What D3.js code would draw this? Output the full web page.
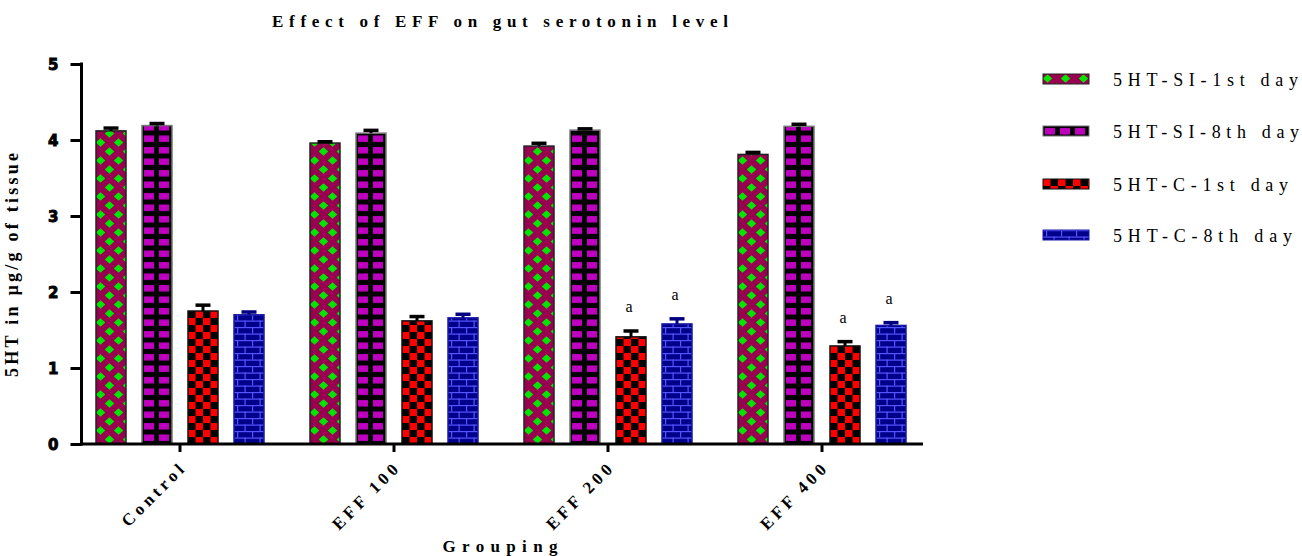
<!DOCTYPE html>
<html><head><meta charset="utf-8">
<script src="https://cdnjs.cloudflare.com/ajax/libs/d3/7.8.5/d3.min.js"></script>
<style>html,body{margin:0;padding:0;background:#fff;}svg{display:block;}</style>
</head><body><div id="chart"></div>
<script>
const groups = ["Control", "EFF 100", "EFF 200", "EFF 400"];
const seriesNames = ["5HT-SI-1st day", "5HT-SI-8th day", "5HT-C-1st day", "5HT-C-8th day"];
const si1 = [4.12, 3.96, 3.92, 3.81];
const si8 = [4.19, 4.09, 4.13, 4.18];
const c1 = [1.75, 1.62, 1.41, 1.29];
const c8 = [1.70, 1.66, 1.58, 1.56];
const si1Err = [0.05, 0.03, 0.05, 0.04];
const si8Err = [0.04, 0.05, 0.03, 0.04];
const c1Err = [0.09, 0.07, 0.09, 0.07];
const c8Err = [0.05, 0.06, 0.08, 0.05];
const sigLabels = [["", "", "", ""], ["", "", "", ""], ["", "", "a", "a"], ["", "", "a", "a"]];
const yTicks = [0, 1, 2, 3, 4, 5];

const values = [si1, si8, c1, c8];
const errs = [si1Err, si8Err, c1Err, c8Err];
const W = 1302, H = 556;
const svg = d3.select("#chart").append("svg").attr("width", W).attr("height", H);
const defs = svg.append("defs");

// Patterns
const p1 = defs.append("pattern").attr("id", "pat0").attr("patternUnits", "userSpaceOnUse")
  .attr("width", 18).attr("height", 18);
p1.append("rect").attr("width", 18).attr("height", 18).attr("fill", "#990050");
[[4.5, 4.5], [22.5, 4.5], [-4.5, 4.5], [13.5, 13.5], [13.5, -4.5], [13.5, 22.5], [-4.5, 13.5]].forEach(([cx, cy]) => {
  p1.append("polygon").attr("points", `${cx - 4.8},${cy} ${cx},${cy - 4.2} ${cx + 4.8},${cy} ${cx},${cy + 4.2}`).attr("fill", "#00e600");
});
const p2 = defs.append("pattern").attr("id", "pat1").attr("patternUnits", "userSpaceOnUse")
  .attr("width", 15).attr("height", 11.5);
p2.append("rect").attr("width", 15).attr("height", 11.5).attr("fill", "#000");
p2.append("rect").attr("x", 2).attr("y", 2).attr("width", 10).attr("height", 6.5).attr("fill", "#c000c0");
const p3 = defs.append("pattern").attr("id", "pat2").attr("patternUnits", "userSpaceOnUse")
  .attr("width", 15).attr("height", 14);
p3.append("rect").attr("width", 15).attr("height", 14).attr("fill", "#000");
p3.append("rect").attr("x", 0).attr("y", 0).attr("width", 7.5).attr("height", 7).attr("fill", "#ff0000");
p3.append("rect").attr("x", 7.5).attr("y", 7).attr("width", 7.5).attr("height", 7).attr("fill", "#ff0000");
const p4 = defs.append("pattern").attr("id", "pat3").attr("patternUnits", "userSpaceOnUse")
  .attr("width", 15).attr("height", 13);
p4.append("rect").attr("width", 15).attr("height", 13).attr("fill", "#00008a");
p4.append("rect").attr("x", 0).attr("y", 0).attr("width", 15).attr("height", 1.2).attr("fill", "#5555ff");
p4.append("rect").attr("x", 0).attr("y", 6.5).attr("width", 15).attr("height", 1.2).attr("fill", "#5555ff");
p4.append("rect").attr("x", 3).attr("y", 0).attr("width", 1.2).attr("height", 6.5).attr("fill", "#5555ff");
p4.append("rect").attr("x", 10.5).attr("y", 6.5).attr("width", 1.2).attr("height", 6.5).attr("fill", "#5555ff");

const strokes = ["#222", "#777", "#111", "#1a1aa8"];
const errColors = ["#000", "#000", "#000", "#000080"];

const x0 = d3.scaleBand().domain(groups).range([73, 929]);
const x1 = d3.scaleBand().domain(d3.range(4)).range([23, 191]).paddingInner(16 / 46).paddingOuter(0);
const y = d3.scaleLinear().domain([0, 5]).range([444, 64]);

const serif = "'Liberation Serif', 'Times New Roman', serif";
const heavy = "'DejaVu Sans', Verdana, sans-serif";

// Bars
groups.forEach((g, gi) => {
  for (let s = 0; s < 4; s++) {
    const bx = x0(g) + x1(s);
    const v = values[s][gi];
    const gg = svg.append("g").attr("transform", `translate(${bx},${y(0)})`);
    gg.append("rect").attr("x", 0).attr("y", y(v) - y(0)).attr("width", x1.bandwidth())
      .attr("height", y(0) - y(v)).attr("fill", `url(#pat${s})`)
      .attr("stroke", strokes[s]).attr("stroke-width", 1.5);
    const cx = bx + x1.bandwidth() / 2;
    const top = y(v + errs[s][gi]);
    svg.append("line").attr("x1", cx).attr("x2", cx).attr("y1", y(v)).attr("y2", top)
      .attr("stroke", errColors[s]).attr("stroke-width", 3);
    svg.append("line").attr("x1", cx - 7.5).attr("x2", cx + 7.5).attr("y1", top + 1).attr("y2", top + 1)
      .attr("stroke", errColors[s]).attr("stroke-width", 3.5);
    const lab = sigLabels[gi][s];
    if (lab) {
      svg.append("text").attr("x", cx - 2).attr("y", top - 18).attr("text-anchor", "middle")
        .attr("font-family", serif).attr("font-size", 16).text(lab);
    }
  }
});

// Y axis
const yAxis = svg.append("g").attr("transform", "translate(81.5,0)")
  .call(d3.axisLeft(y).tickValues(yTicks).tickSize(11).tickSizeOuter(0).tickFormat(d3.format("d")));
yAxis.select(".domain").remove();
yAxis.selectAll(".tick line").attr("stroke", "#000").attr("stroke-width", 3);
yAxis.selectAll(".tick text").attr("font-family", heavy).attr("font-weight", "bold")
  .attr("font-size", 15).attr("fill", "#000").attr("stroke", "#000").attr("stroke-width", 0.9)
  .attr("x", -23).attr("dy", "0.38em");
svg.append("line").attr("x1", 81.5).attr("x2", 81.5).attr("y1", 62.5).attr("y2", 445.5)
  .attr("stroke", "#000").attr("stroke-width", 3);

// X axis
const xAxis = svg.append("g").attr("transform", "translate(0,444)")
  .call(d3.axisBottom(x0).tickSize(8).tickSizeOuter(0));
xAxis.select(".domain").remove();
xAxis.selectAll(".tick line").attr("stroke", "#000").attr("stroke-width", 3);
xAxis.selectAll(".tick text").attr("font-family", serif).attr("font-weight", "bold")
  .attr("font-size", 17).attr("fill", "#000").attr("letter-spacing", 4)
  .attr("text-anchor", "end").attr("x", 0).attr("y", 0).attr("dy", 0)
  .attr("transform", "translate(8,24) rotate(-45)");
svg.append("line").attr("x1", 80).attr("x2", 923).attr("y1", 444).attr("y2", 444)
  .attr("stroke", "#000").attr("stroke-width", 3);

// Title and axis labels
svg.append("text").attr("x", 500).attr("y", 27).attr("text-anchor", "middle")
  .attr("font-family", serif).attr("font-weight", "bold").attr("font-size", 17)
  .attr("textLength", 456).attr("lengthAdjust", "spacing").text("Effect of EFF on gut serotonin level");
svg.append("text").attr("x", 500).attr("y", 552).attr("text-anchor", "middle")
  .attr("font-family", serif).attr("font-weight", "bold").attr("font-size", 17)
  .attr("textLength", 115).attr("lengthAdjust", "spacing").text("Grouping");
svg.append("text").attr("transform", "translate(18,265) rotate(-90)").attr("text-anchor", "middle")
  .attr("font-family", serif).attr("font-weight", "bold").attr("font-size", 18)
  .attr("textLength", 224).attr("lengthAdjust", "spacing")
  .text("5HT in µg/g of tissue");

// Legend
const legY = [79, 131, 184, 235];
const legLen = [185, 186, 175, 179];
seriesNames.forEach((name, i) => {
  svg.append("g").attr("transform", `translate(1043,${legY[i] - 5})`)
    .append("rect").attr("width", 46).attr("height", 10).attr("fill", `url(#pat${i})`)
    .attr("stroke", strokes[i]).attr("stroke-width", 1);
  svg.append("text").attr("x", 1113).attr("y", legY[i] + 7).attr("font-family", serif)
    .attr("font-size", 18).attr("textLength", legLen[i]).attr("lengthAdjust", "spacing")
    .attr("fill", "#000").text(name);
});
</script></body></html>
